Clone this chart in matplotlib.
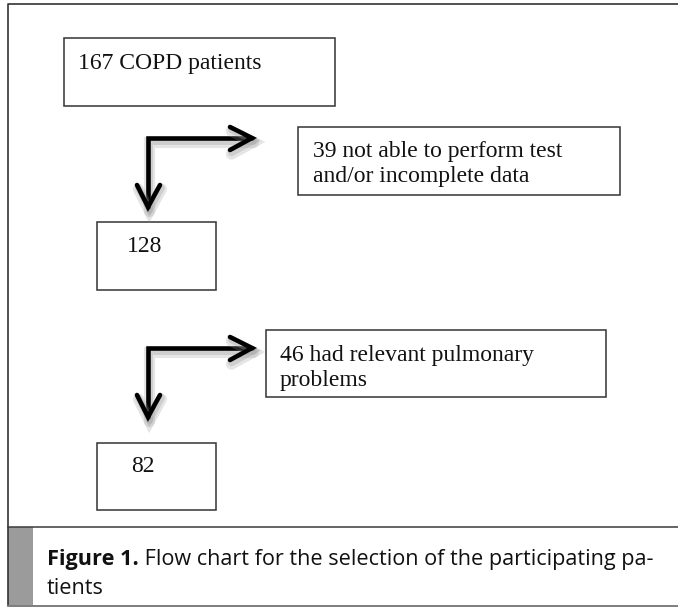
import matplotlib
matplotlib.use("Agg")
import matplotlib.pyplot as plt
import matplotlib.patheffects as pe
import matplotlib.transforms as mtrans
from matplotlib.patches import Rectangle

W, H = 678, 608

# flow chart content
box_labels = ["167 COPD patients", "39 not able to perform test\nand/or incomplete data",
              "128", "46 had relevant pulmonary\nproblems", "82"]
# box geometry in pixels: x0, y0, x1, y1
box_geom = [(64, 38, 335, 106), (298, 127, 620, 195), (97, 222, 216, 290),
            (266, 330, 606, 397), (97, 443, 216, 510)]
text_pos = [(78, 63), (313, 164), (127, 247), (280, 368), (131, 466)]
arrow_tops = [138, 348]

caption_bold = "Figure 1."
caption_rest = " Flow chart for the selection of the participating pa-"
caption_line2 = "tients"

fig = plt.figure(figsize=(W / 100, H / 100), dpi=100)
ax = fig.add_axes([0, 0, 1, 1])
ax.set_xlim(0, W)
ax.set_ylim(H, 0)
ax.axis("off")

# outer frame (open on the right, like the crop)
ax.plot([W + 5, 8, 8, W + 5], [4, 4, 606, 606], color="#333333", lw=1.2)
ax.plot([8, W + 5], [527, 527], color="#3a3a3a", lw=1.1)
ax.add_patch(Rectangle((8, 527), 25, 79, fc="#9b9b9b", ec="none"))
ax.plot([8, W + 5], [606, 606], color="#8a8a8a", lw=1.2)

serif = "Liberation Serif"
for (x0, y0, x1, y1), lab, (tx, ty) in zip(box_geom, box_labels, text_pos):
    ax.add_patch(Rectangle((x0, y0), x1 - x0, y1 - y0, fill=False, ec="#333333", lw=1.1))
    ax.text(tx, ty, lab, family=serif, fontsize=17, va="center", ha="left",
            linespacing=1.3, color="#111111")

# elbow arrows with soft shadow
shadow = [pe.SimpleLineShadow(offset=(1, -3), shadow_color="#9a9a9a", alpha=0.25, linewidth=8),
          pe.SimpleLineShadow(offset=(1, -2), shadow_color="#9a9a9a", alpha=0.3, linewidth=5),
          pe.Normal()]
for ytop in arrow_tops:
    xs, xe, yb = 148, 252, ytop + 69
    kw = dict(color="black", lw=3.3, solid_capstyle="round", solid_joinstyle="miter",
              path_effects=shadow)
    ax.plot([xe, xs, xs], [ytop, ytop, yb], **kw)
    ax.plot([230, xe, 230], [ytop - 11, ytop, ytop + 12], **kw)
    ax.plot([137, xs, 160], [yb - 22, yb, yb - 22], **kw)

# caption
cap_fs = 15.6
t1 = ax.text(47, 559, caption_bold, family="Open Sans", weight="bold", fontsize=cap_fs,
             va="center", ha="left", color="#111111")
fig.canvas.draw()
x_after = t1.get_window_extent().x1
ax.text(x_after, 559, caption_rest, family="Open Sans", fontsize=cap_fs,
        va="center", ha="left", color="#111111",
        transform=mtrans.blended_transform_factory(mtrans.IdentityTransform(), ax.transData))
ax.text(47, 588, caption_line2, family="Open Sans", fontsize=cap_fs, va="center",
        ha="left", color="#111111")

fig.savefig("out.png", dpi=100)
